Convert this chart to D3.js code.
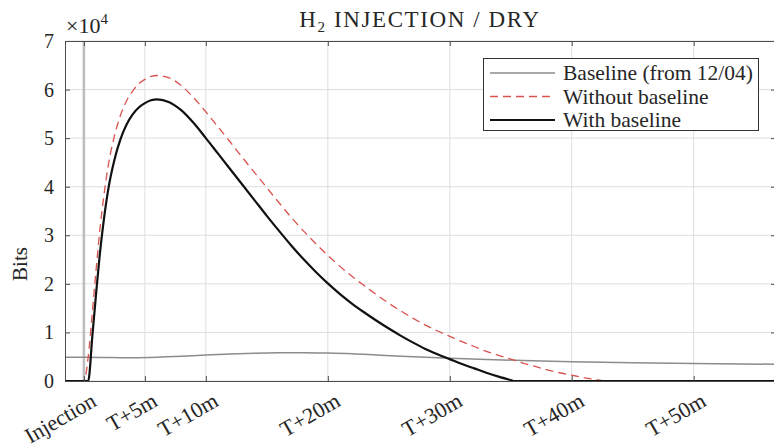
<!DOCTYPE html>
<html>
<head>
<meta charset="utf-8">
<script src="https://cdn.jsdelivr.net/npm/d3@7"></script>
<style>
  html, body { margin: 0; padding: 0; background: #fff; }
  svg text { font-family: "Liberation Serif", "DejaVu Serif", serif; }
</style>
</head>
<body>
<svg id="chart" width="774" height="448" font-family="Liberation Serif, serif"></svg>
<script>
// Time axis in minutes after injection; signal in bits.
const tickMinutes = [0, 5, 10, 20, 30, 40, 50];
const tickLabels = ["Injection", "T+5m", "T+10m", "T+20m", "T+30m", "T+40m", "T+50m"];
const yTicks = [0, 10000, 20000, 30000, 40000, 50000, 60000, 70000];

// Baseline recorded on 12/04
const baselineTime = [-1.55, 0, 4, 6, 8, 10, 12, 14, 16, 18, 20, 22, 24, 26, 28, 30, 33, 36, 40, 45, 50, 56.75];
const baselineBits = [4900, 4900, 4800, 4900, 5100, 5350, 5550, 5700, 5800, 5830, 5750, 5600, 5350, 5100, 4900, 4700, 4450, 4200, 3950, 3750, 3600, 3450];

// Raw signal, baseline not removed
const withoutTime = [-1.55, 0.02, 0.35, 0.7, 1.0, 1.3, 1.6, 2.0, 2.5, 3.0, 3.5, 4.0, 4.5, 5.0, 5.5, 6.0, 7, 8, 9, 10, 11, 12, 13, 14, 15, 16, 17, 18, 19, 20, 21, 22, 23, 24, 25, 26, 27, 28, 29, 30, 31, 32, 33, 34, 35, 36, 37, 38, 39, 40, 41, 42, 43, 56.75];
const withoutBits = [0, 0, 4900, 14400, 22900, 30900, 37400, 44400, 50400, 54700, 57700, 59700, 61200, 62100, 62700, 62900, 62400, 60800, 58300, 55400, 52300, 49200, 46000, 42900, 39800, 36700, 33700, 30900, 28300, 25850, 23600, 21500, 19600, 17750, 16000, 14400, 12900, 11500, 10300, 9200, 8100, 7100, 6100, 5300, 4500, 3700, 3000, 2300, 1700, 1200, 700, 300, 0, 0];

// Signal with the baseline removed (floored at zero)
const withTime = [-1.55, 0.35, 0.7, 1.0, 1.3, 1.6, 2.0, 2.5, 3.0, 3.5, 4.0, 4.5, 5.0, 5.5, 6.0, 7, 8, 9, 10, 11, 12, 13, 14, 15, 16, 17, 18, 19, 20, 21, 22, 23, 24, 25, 26, 27, 28, 29, 30, 31, 32, 33, 34, 35, 35.3, 56.75];
const withBits = [0, 0, 9500, 18000, 26000, 32500, 39500, 45500, 49800, 52800, 54900, 56300, 57200, 57800, 58000, 57400, 55700, 53100, 50000, 46800, 43600, 40400, 37200, 34000, 30900, 27900, 25100, 22500, 20100, 17900, 15900, 14100, 12400, 10800, 9300, 7900, 6600, 5500, 4500, 3500, 2600, 1700, 900, 200, 0, 0];

const svg = d3.select("#chart");
const m = { left: 65, right: 776, top: 41, bottom: 381 };

const x = d3.scaleLinear().domain([-1.55, 56.75]).range([m.left, m.right]);
const y = d3.scaleLinear().domain([0, 70000]).range([m.bottom, m.top]);

const axisColor = "#4d4d4d";
const gridColor = "#dedede";
const textColor = "#262626";
const redDash = "8,5";

// grid
const grid = svg.append("g");
grid.selectAll("line.gx").data(tickMinutes).join("line")
  .attr("x1", d => x(d)).attr("x2", d => x(d))
  .attr("y1", m.top).attr("y2", m.bottom)
  .attr("stroke", gridColor).attr("stroke-width", 1);
grid.selectAll("line.gy").data(yTicks).join("line")
  .attr("x1", m.left).attr("x2", m.right)
  .attr("y1", d => y(d)).attr("y2", d => y(d))
  .attr("stroke", gridColor).attr("stroke-width", 1);

// injection marker
svg.append("line")
  .attr("x1", x(0)).attr("x2", x(0))
  .attr("y1", m.top).attr("y2", m.bottom)
  .attr("stroke", "#bdbdbd").attr("stroke-width", 2.6);

svg.append("clipPath").attr("id", "plotclip")
  .append("rect").attr("x", m.left).attr("y", m.top - 2)
  .attr("width", m.right - m.left).attr("height", m.bottom - m.top + 4);

const line = d3.line()
  .x(d => x(d[0])).y(d => y(d[1]))
  .curve(d3.curveMonotoneX);

const plot = svg.append("g").attr("clip-path", "url(#plotclip)");

plot.append("path")
  .attr("d", line(d3.zip(baselineTime, baselineBits)))
  .attr("fill", "none").attr("stroke", "#8c8c8c").attr("stroke-width", 1.5);

plot.append("path")
  .attr("d", line(d3.zip(withoutTime, withoutBits)))
  .attr("fill", "none").attr("stroke", "#d9534f").attr("stroke-width", 1.3)
  .attr("stroke-dasharray", redDash);

plot.append("path")
  .attr("d", line(d3.zip(withTime, withBits)))
  .attr("fill", "none").attr("stroke", "#111").attr("stroke-width", 2.2);

// axes box with inward ticks
const xBottom = d3.axisBottom(x).tickValues(tickMinutes).tickSize(-5).tickSizeOuter(0).tickFormat("");
const xTop = d3.axisTop(x).tickValues(tickMinutes).tickSize(-5).tickSizeOuter(0).tickFormat("");
const yLeft = d3.axisLeft(y).tickValues(yTicks).tickSize(-5).tickSizeOuter(0).tickFormat("");
const yRight = d3.axisRight(y).tickValues(yTicks).tickSize(-5).tickSizeOuter(0).tickFormat("");

function styleAxis(g) {
  g.selectAll("path.domain").attr("stroke", axisColor).attr("stroke-width", 1);
  g.selectAll(".tick line").attr("stroke", axisColor).attr("stroke-width", 1);
}
svg.append("g").attr("transform", `translate(0,${m.bottom})`).call(xBottom).call(styleAxis);
svg.append("g").attr("transform", `translate(0,${m.top})`).call(xTop).call(styleAxis);
svg.append("g").attr("transform", `translate(${m.left},0)`).call(yLeft).call(styleAxis);
svg.append("g").attr("transform", `translate(${m.right},0)`).call(yRight).call(styleAxis);

// tick labels
svg.append("g").selectAll("text").data(yTicks).join("text")
  .attr("x", 54).attr("y", d => y(d)).attr("dy", "0.35em")
  .attr("text-anchor", "end").attr("font-size", 20).attr("fill", textColor)
  .text(d => d / 10000);

svg.append("g").selectAll("text").data(tickMinutes).join("text")
  .attr("transform", (d) => `translate(${x(d) + 14},405) rotate(-30)`)
  .attr("text-anchor", "end").attr("font-size", 22).attr("fill", textColor)
  .text((d, i) => tickLabels[i]);

// exponent
const ex = svg.append("text").attr("x", 66).attr("y", 33).attr("font-size", 22).attr("fill", textColor);
ex.append("tspan").text("\u00d710");
ex.append("tspan").attr("font-size", 15).attr("dy", -9).text("4");

// y label
svg.append("text")
  .attr("transform", "translate(27,264) rotate(-90)")
  .attr("text-anchor", "middle").attr("font-size", 21).attr("fill", textColor)
  .text("Bits");

// title
const title = svg.append("text").attr("x", 420).attr("y", 27)
  .attr("text-anchor", "middle").attr("font-size", 23).attr("fill", textColor)
  .attr("letter-spacing", 1.6);
title.append("tspan").text("H");
title.append("tspan").attr("font-size", 15).attr("dy", 5).text("2");
title.append("tspan").attr("dy", -5).text(" INJECTION / DRY");

// legend
const legendItems = [
  { label: "Baseline (from 12/04)", color: "#8c8c8c", width: 1.5, dash: null },
  { label: "Without baseline", color: "#d9534f", width: 1.3, dash: redDash },
  { label: "With baseline", color: "#111", width: 2.2, dash: null }
];
const lg = svg.append("g");
lg.append("rect").attr("x", 483.5).attr("y", 58.5).attr("width", 275).attr("height", 72)
  .attr("fill", "#fff").attr("stroke", "#333").attr("stroke-width", 1);
legendItems.forEach((it, i) => {
  const cy = 73 + i * 23.5;
  lg.append("line").attr("x1", 490).attr("x2", 555).attr("y1", cy).attr("y2", cy)
    .attr("stroke", it.color).attr("stroke-width", it.width)
    .attr("stroke-dasharray", it.dash);
  lg.append("text").attr("x", 563).attr("y", cy).attr("dy", "0.33em")
    .attr("font-size", 21.5).attr("fill", textColor).text(it.label);
});
</script>
</body>
</html>
